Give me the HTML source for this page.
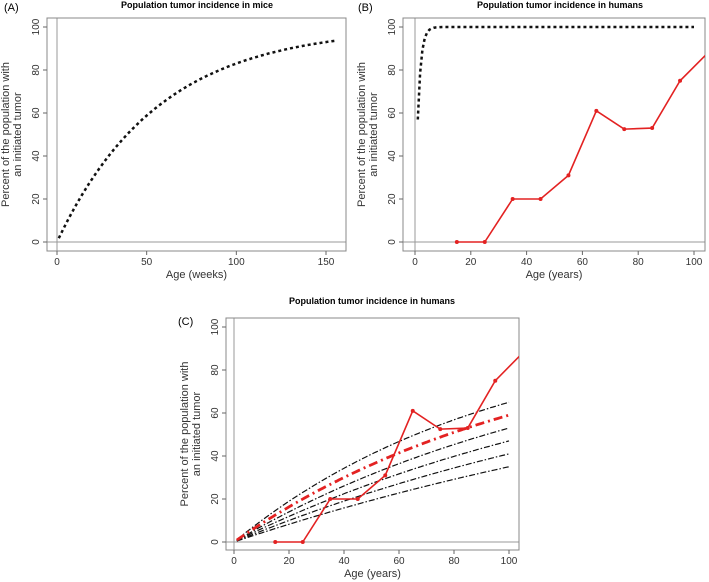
<!DOCTYPE html>
<html><head><meta charset="utf-8"><style>body{margin:0;background:#fff}svg{display:block;font-family:"Liberation Sans",sans-serif}</style></head>
<body>
<svg id="c" width="709" height="582" viewBox="0 0 709 582"></svg>
<script>
const obsAges=[15,25,35,45,55,65,75,85,95,105];
const obsPct=[0,0,20,20,31,61,52.5,53,75,88];
const miceEnd=93, miceEndAge=155;
const humanStart=57;
const cFinals=[65,53,47,41,35];
const cRedFinal=59;
const yTicks=[0,20,40,60,80,100];
const xTicksA=[0,50,100,150];
const xTicksB=[0,20,40,60,80,100];
const NS="http://www.w3.org/2000/svg";
const svg=document.getElementById('c');
function el(t,a,p){const e=document.createElementNS(NS,t);for(const k in a)e.setAttribute(k,a[k]);(p||svg).appendChild(e);return e;}
function panel(o){
  const g=el('g',{});
  
  
  const X=v=>o.x0+(v-o.xmin)*(o.x1-o.x0)/(o.xmax-o.xmin);
  const Y=v=>o.y0-v*(o.y0-o.y1)/100;
  const t=el('text',{x:o.tx,y:o.ty,'font-size':9,'font-weight':'bold','text-anchor':'middle'},g);t.textContent=o.title;
  
  const lb=el('text',{x:o.lx,y:o.ly,'font-size':11},g);lb.textContent=o.label;
  
  const cp=el('clipPath',{id:'cp'+o.name},g);el('rect',{x:o.bl,y:o.bt,width:o.br-o.bl,height:o.bb-o.bt},cp);
  el('line',{x1:X(0),x2:X(0),y1:o.bt,y2:o.bb,stroke:'#999','stroke-width':1},g);
  el('line',{x1:o.bl,x2:o.br,y1:Y(0),y2:Y(0),stroke:'#999','stroke-width':1},g);
  el('rect',{x:o.bl,y:o.bt,width:o.br-o.bl,height:o.bb-o.bt,fill:'none',stroke:'#888','stroke-width':1},g);
  yTicks.forEach(v=>{el('line',{x1:o.bl,x2:o.bl-4,y1:Y(v),y2:Y(v),stroke:'#666'},g);
    const tt=el('text',{x:0,y:0,'font-size':10,fill:'#333','text-anchor':'middle',transform:`translate(${o.bl-8},${Y(v)}) rotate(-90)`},g);tt.textContent=v;
    });
  o.xt.forEach(v=>{el('line',{x1:X(v),x2:X(v),y1:o.bb,y2:o.bb+4,stroke:'#666'},g);
    const tt=el('text',{x:X(v),y:o.bb+14,'font-size':10,fill:'#333','text-anchor':'middle'},g);tt.textContent=v;
    });
  const xa=el('text',{x:(o.bl+o.br)/2,y:o.bb+27,'font-size':11,fill:'#333','text-anchor':'middle'},g);xa.textContent=o.xlabel;
  
  const ym=(o.bt+o.bb)/2;
  const ya=el('text',{'font-size':11,fill:'#333','text-anchor':'middle',transform:`translate(${o.bl-38},${ym}) rotate(-90)`},g);ya.textContent='Percent of the population with';
  
  const yb=el('text',{'font-size':11,fill:'#333','text-anchor':'middle',transform:`translate(${o.bl-26},${ym}) rotate(-90)`},g);yb.textContent='an initiated tumor';
  
  const pg=el('g',{'clip-path':`url(#cp${o.name})`},g);
  return {g:pg,X,Y};
}
function curve(p,k,t0,t1,attrs,name){
  let d='';for(let i=0;i<=120;i++){const t=t0+(t1-t0)*i/120;const v=100*(1-Math.exp(-k*t));d+=(i?'L':'M')+p.X(t).toFixed(1)+','+p.Y(v).toFixed(1);}
  const e=el('path',Object.assign({d,fill:'none'},attrs),p.g);
  
}
function obs(p){
  let d='';obsAges.forEach((a,i)=>{d+=(i?'L':'M')+p.X(a)+','+p.Y(obsPct[i]);});
  const e=el('path',{d,fill:'none',stroke:'#e32222','stroke-width':1.6},p.g);
  
  obsAges.forEach((a,i)=>{const c=el('circle',{cx:p.X(a),cy:p.Y(obsPct[i]),r:2,fill:'#e32222'},p.g);
    });
}
const A=panel({name:'panel-a',title:'Population tumor incidence in mice',tx:197,ty:8,label:'(A)',lx:4,ly:11,
  bl:47,br:346,bt:18,bb:251,x0:57,x1:326,xmin:0,xmax:150,y0:242,y1:27,xt:xTicksA,xlabel:'Age (weeks)'});
curve(A,-Math.log(1-miceEnd/100)/150,1,miceEndAge,{stroke:'#111','stroke-width':2.5,'stroke-dasharray':'3,3'},'mice-model-curve');
const B=panel({name:'panel-b',title:'Population tumor incidence in humans',tx:560,ty:8,label:'(B)',lx:358,ly:11,
  bl:403,br:705,bt:18,bb:251,x0:415,x1:694,xmin:0,xmax:100,y0:242,y1:27,xt:xTicksB,xlabel:'Age (years)'});
curve(B,-Math.log(1-humanStart/100),1,100,{stroke:'#111','stroke-width':2.5,'stroke-dasharray':'3,3'},'human-model-curve');
obs(B);
const C=panel({name:'panel-c',title:'Population tumor incidence in humans',tx:372,ty:304,label:'(C)',lx:178,ly:325,
  bl:226,br:519,bt:318,bb:550,x0:234,x1:509,xmin:0,xmax:100,y0:542,y1:327,xt:xTicksB,xlabel:'Age (years)'});
cFinals.forEach(f=>curve(C,-Math.log(1-f/100)/100,1,100,{stroke:'#111','stroke-width':1.2,'stroke-dasharray':'6,2,1.5,2'},'model-curve'));
curve(C,-Math.log(1-cRedFinal/100)/100,1,100,{stroke:'#e32222','stroke-width':2.8,'stroke-dasharray':'9,4,2,4'},'best-fit-curve');
obs(C);
</script>
</body></html>
